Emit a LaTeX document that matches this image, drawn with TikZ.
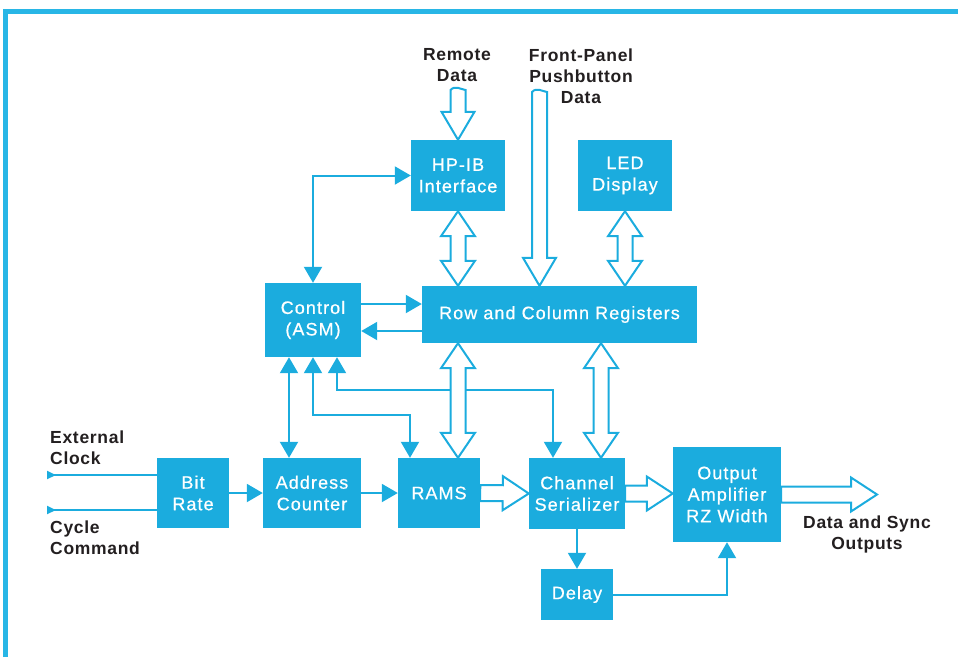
\documentclass[tikz,border=0pt]{standalone}
\usepackage{fontspec}
\setmainfont{Liberation Sans}
\newfontfamily\boxfont[LetterSpace=6,FakeBold=0.7]{Liberation Sans}
\newfontfamily\labfont[LetterSpace=4]{Liberation Sans Bold}
\usetikzlibrary{arrows.meta,calc}
\definecolor{hpblue}{RGB}{27,172,222}
\definecolor{frameblue}{RGB}{40,182,230}
\definecolor{ink}{RGB}{35,31,32}
\newcommand\hollowone[2]{%
  \coordinate (hA) at (#1); \coordinate (hB) at (#2);
  \coordinate (hH) at ($(hB)!26pt!(hA)$);
  \draw[hollow] ($(hA)!8pt!90:(hB)$) -- ($(hH)!8pt!-90:(hA)$) -- ($(hH)!17pt!-90:(hA)$) -- (hB)
    -- ($(hH)!17pt!90:(hA)$) -- ($(hH)!8pt!90:(hA)$) -- ($(hA)!8pt!-90:(hB)$) -- cycle;
}
\newcommand\hollowfree[2]{%
  \coordinate (hA) at (#1); \coordinate (hB) at (#2);
  \coordinate (hH) at ($(hB)!28pt!(hA)$);
  \draw[hollow] ($(hA)!7.5pt!90:(hB)$) -- ($(hH)!7.5pt!-90:(hA)$) -- ($(hH)!16.5pt!-90:(hA)$) -- (hB)
    -- ($(hH)!16.5pt!90:(hA)$) -- ($(hH)!7.5pt!90:(hA)$) -- ($(hA)!7.5pt!-90:(hB)$)
    .. controls +(5,-5) and +(-6,-1) .. ($(hA)!7.5pt!90:(hB)$) -- cycle;
}
\newcommand\hollowtwo[2]{%
  \coordinate (hA) at (#1); \coordinate (hB) at (#2);
  \coordinate (hH) at ($(hB)!25pt!(hA)$);
  \coordinate (hG) at ($(hA)!25pt!(hB)$);
  \draw[hollow] (hA) -- ($(hG)!17pt!90:(hB)$) -- ($(hG)!7.5pt!90:(hB)$) -- ($(hH)!7.5pt!-90:(hA)$)
    -- ($(hH)!17pt!-90:(hA)$) -- (hB) -- ($(hH)!17pt!90:(hA)$) -- ($(hH)!7.5pt!90:(hA)$)
    -- ($(hG)!7.5pt!-90:(hB)$) -- ($(hG)!17pt!-90:(hB)$) -- cycle;
}
\begin{document}
\begin{tikzpicture}[x=1pt,y=-1pt,
  blk/.style={fill=hpblue, draw=none, text=white, font=\boxfont\fontsize{18}{21.5}\selectfont, align=center, inner sep=0pt},
  lbl/.style={text=ink, font=\labfont\fontsize{17.5}{21}\selectfont, align=center, inner sep=0pt},
  wire/.style={draw=hpblue, line width=2pt},
  tipend/.style={-{Triangle[width=18pt,length=16pt]}},
  tipboth/.style={{Triangle[width=18pt,length=16pt]}-{Triangle[width=18pt,length=16pt]}},
  intip/.style={{Triangle[reversed,width=8pt,length=9pt]}-},
  hollow/.style={draw=hpblue, fill=white, line width=2pt, line join=miter}]
\useasboundingbox (0,0) rectangle (958,657);
% frame
\draw[frameblue, line width=5pt] (5,657) -- (5,11.5) -- (958,11.5);
% blocks
\node[blk, minimum width=94pt, minimum height=71pt] (hpib) at (458,175.5) {HP-IB\\Interface};
\node[blk, minimum width=94pt, minimum height=71pt] (led) at (625,175.5) {LED\\Display};
\node[blk, minimum width=275pt, minimum height=57pt] (rcr) at (559.5,314.5) {Row and Column Registers};
\node[blk, minimum width=96pt, minimum height=74pt] (ctrl) at (313,320) {Control\\(ASM)};
\node[blk, minimum width=72pt, minimum height=70pt] (bitrate) at (193,493) {Bit\\Rate};
\node[blk, minimum width=98pt, minimum height=70pt] (addr) at (312,493) {Address\\Counter};
\node[blk, minimum width=82pt, minimum height=70pt] (rams) at (439,493) {RAMS};
\node[blk, minimum width=96pt, minimum height=71pt] (chan) at (577,493.5) {Channel\\Serializer};
\node[blk, minimum width=108pt, minimum height=95pt] (outamp) at (727,494.5) {Output\\Amplifier\\RZ Width};
\node[blk, minimum width=72pt, minimum height=51pt] (delay) at (577,594.5) {Delay};
% labels
\node[lbl] (rdl) at (457,65) {Remote\\Data};
\node[lbl] (fpl) at (581,76) {Front-Panel\\Pushbutton\\Data};
\node[lbl, align=left, anchor=west] (ecl) at (50,447.5) {External\\Clock};
\node[lbl, align=left, anchor=west] (ccl) at (50,538) {Cycle\\Command};
\node[lbl] (dsl) at (867,534.5) {Data and Sync\\Outputs};
% thin wires
\draw[wire, tipboth] (ctrl.north) |- (hpib.west);
\coordinate (c1) at ([yshift=16pt]ctrl.east);
\draw[wire, tipend] (c1) -- (c1 -| rcr.west);
\coordinate (c2) at ([yshift=-11pt]ctrl.east);
\draw[wire, tipend] (c2 -| rcr.west) -- (c2);
\coordinate (c3) at ([xshift=-24pt]ctrl.south);
\draw[wire, tipboth] (c3) -- (c3 |- addr.north);
\draw[wire, tipboth] (ctrl.south) -- ++(0,58) -| ([xshift=-29pt]rams.north);
\coordinate (c5) at ([xshift=24pt]ctrl.south);
\draw[wire, tipboth] (c5) -- ++(0,33) -| ([xshift=-24pt]chan.north);
\coordinate (ec) at (47,475);
\draw[wire, intip] (ec) -- (ec -| bitrate.west);
\coordinate (cc) at (47,510);
\draw[wire, intip] (cc) -- (cc -| bitrate.west);
\draw[wire, tipend] (bitrate.east) -- (addr.west);
\draw[wire, tipend] (addr.east) -- (rams.west);
\draw[wire, tipend] (chan.south) -- (delay.north);
\draw[wire, tipend] (delay.east) -| (outamp.south);
% hollow arrows
\coordinate (rd) at (458,90);
\hollowfree{rd}{hpib.north}
\coordinate (fp) at (539.5,92);
\hollowfree{fp}{fp |- rcr.north}
\hollowtwo{hpib.south}{hpib.south |- rcr.north}
\hollowtwo{led.south}{led.south |- rcr.north}
\hollowtwo{hpib.south |- rcr.south}{hpib.south |- rams.north}
\coordinate (x601) at ([xshift=24pt]chan.north);
\hollowtwo{x601 |- rcr.south}{x601}
\hollowone{rams.east}{chan.west}
\hollowone{chan.east}{chan.east -| outamp.west}
\coordinate (outend) at (877,494.5);
\hollowone{outamp.east}{outend}
\end{tikzpicture}
\end{document}
